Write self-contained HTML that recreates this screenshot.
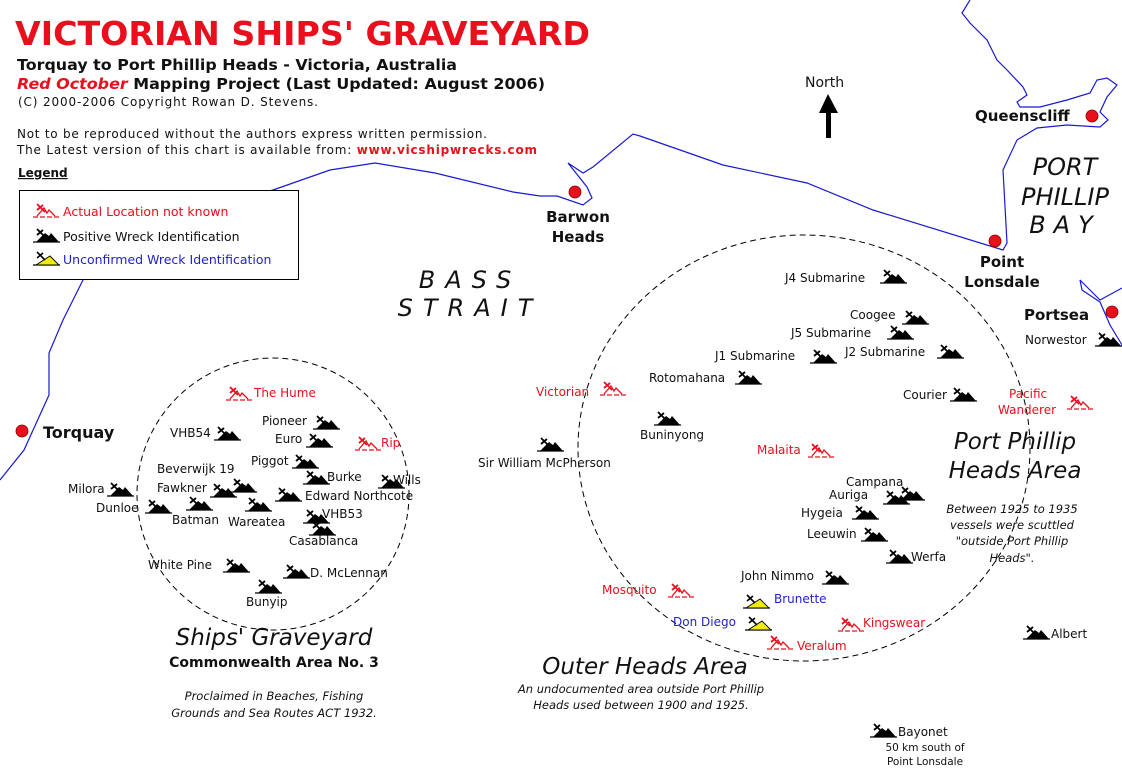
<!DOCTYPE html>
<html><head><meta charset="utf-8"><style>
html,body{margin:0;padding:0;background:#fff}
svg{display:block}
text{font-family:"DejaVu Sans","Liberation Sans",sans-serif;font-size:12px;fill:#111}
.r{fill:#e8101c}.b{fill:#2222cc}
.bd{font-weight:bold}
.it{font-style:italic}
</style></head><body>
<svg width="1122" height="768" viewBox="0 0 1122 768" xmlns="http://www.w3.org/2000/svg">
<defs>
<g id="w">
<line x1="0" y1="14" x2="27" y2="14" stroke="#000" stroke-width="1.3"/>
<polygon points="3,14 12,5 16,8 18,5 26,14" fill="#000"/>
<line x1="4" y1="1" x2="12" y2="9" stroke="#000" stroke-width="1.8"/>
<line x1="4" y1="7" x2="10" y2="2" stroke="#000" stroke-width="1.8"/>
</g>
<g id="y">
<line x1="0" y1="14" x2="27" y2="14" stroke="#000" stroke-width="1.3"/>
<polygon points="3,14 17,5 26,14" fill="#f0ea10" stroke="#000" stroke-width="0.9"/>
<line x1="4" y1="1" x2="12" y2="9" stroke="#000" stroke-width="1.6"/>
<line x1="4" y1="7" x2="10" y2="2" stroke="#000" stroke-width="1.6"/>
</g>
<g id="x">
<line x1="0" y1="14" x2="27" y2="14" stroke="#e8101c" stroke-width="1.3" stroke-dasharray="5,2"/>
<polyline points="4,13 11,5 14,10 16,7 22,13" fill="none" stroke="#e8101c" stroke-width="1.3"/>
<line x1="4" y1="1" x2="12" y2="9" stroke="#e8101c" stroke-width="1.8"/>
<line x1="4" y1="7" x2="10" y2="2" stroke="#e8101c" stroke-width="1.8"/>
</g>
</defs>

<path d="M0,480 L24,450 L49,395 L49,353 L63,320 L83,280 L120,240 L180,212 L273,190 L330,170 L375,163 L435,173 L513,192 L540,196 L557,196 L583,205 L592,198 L587,187 L568,163 L583,173 L593,167 L633,134 L640,136 L723,165 L807,183 L873,210 L1003,250 L1007,243 L1003,170 L1017,140 L1037,128 L1067,125 L1100,127 L1108,120 L1100,112 L1107,97 L1117,85 L1107,78 L1097,80 L1090,93 L1067,100 L1040,107 L1020,107 L1017,102 L1027,95 L1023,87 L1007,70 L997,60 L987,40 L970,23 L962,13 L970,0" fill="none" stroke="#1a1ad0" stroke-width="1.2"/>
<path d="M1080,280 L1082,290 L1100,302 L1110,325 L1122,345" fill="none" stroke="#1a1ad0" stroke-width="1.2"/>
<path d="M1080,280 L1090,290 L1100,300 L1122,288" fill="none" stroke="#1a1ad0" stroke-width="1.2"/>

<circle cx="273" cy="494" r="136" fill="none" stroke="#000" stroke-dasharray="6,4"/>
<ellipse cx="804" cy="448" rx="226" ry="213" fill="none" stroke="#000" stroke-dasharray="6,4"/>

<text x="15" y="45" class="bd r" style="font-size:33px" textLength="575" lengthAdjust="spacingAndGlyphs">VICTORIAN SHIPS' GRAVEYARD</text>
<text x="17" y="70" class="bd" style="font-size:15px" textLength="440" lengthAdjust="spacingAndGlyphs">Torquay to Port Phillip Heads - Victoria, Australia</text>
<text x="17" y="89" class="bd" style="font-size:15px" textLength="528" lengthAdjust="spacingAndGlyphs"><tspan class="r it">Red October</tspan> Mapping Project (Last Updated: August 2006)</text>
<text x="18" y="106" style="font-size:12px" textLength="300">(C) 2000-2006 Copyright Rowan D. Stevens.</text>
<text x="17" y="138" style="font-size:12px" textLength="470">Not to be reproduced without the authors express written permission.</text>
<text x="17" y="154" style="font-size:12px" textLength="520">The Latest version of this chart is available from: <tspan class="bd r">www.vicshipwrecks.com</tspan></text>
<text x="18" y="177" class="bd" style="font-size:12px;text-decoration:underline">Legend</text>

<rect x="19.5" y="190.5" width="279" height="89" fill="#fff" stroke="#000"/>
<use href="#x" x="33" y="203"/><text x="63" y="216" class="r" style="font-size:12.5px">Actual Location not known</text>
<use href="#w" x="33" y="228"/><text x="63" y="241" style="font-size:12.5px">Positive Wreck Identification</text>
<use href="#y" x="33" y="251"/><text x="63" y="264" class="b" style="font-size:12.5px">Unconfirmed Wreck Identification</text>

<text x="805" y="87" style="font-size:14px">North</text>
<polygon points="828,94 819,113 838,113" fill="#000"/>
<rect x="826" y="110" width="5" height="28" fill="#000"/>

<circle cx="22" cy="431" r="6" fill="#e8101c" stroke="#800" stroke-width="0.8"/>
<text x="43" y="438" class="bd" style="font-size:16px">Torquay</text>
<circle cx="575" cy="192" r="6" fill="#e8101c" stroke="#800" stroke-width="0.8"/>
<text x="578" y="222" class="bd" style="font-size:15px" text-anchor="middle">Barwon</text>
<text x="578" y="242" class="bd" style="font-size:15px" text-anchor="middle">Heads</text>
<circle cx="1092" cy="116" r="6" fill="#e8101c" stroke="#800" stroke-width="0.8"/>
<text x="975" y="121" class="bd" style="font-size:15px">Queenscliff</text>
<circle cx="995" cy="241" r="6" fill="#e8101c" stroke="#800" stroke-width="0.8"/>
<text x="1002" y="267" class="bd" style="font-size:15px" text-anchor="middle">Point</text>
<text x="1002" y="287" class="bd" style="font-size:15px" text-anchor="middle">Lonsdale</text>
<circle cx="1112" cy="312" r="6" fill="#e8101c" stroke="#800" stroke-width="0.8"/>
<text x="1024" y="320" class="bd" style="font-size:15px">Portsea</text>

<text x="1065" y="175" class="it" style="font-size:24px" text-anchor="middle">PORT</text>
<text x="1065" y="205" class="it" style="font-size:24px" text-anchor="middle">PHILLIP</text>
<text x="1065" y="233" class="it" style="font-size:24px;letter-spacing:8px" text-anchor="middle">BAY</text>
<text x="470" y="288" class="it" style="font-size:24px;letter-spacing:10px" text-anchor="middle">BASS</text>
<text x="470" y="316" class="it" style="font-size:24px;letter-spacing:10px" text-anchor="middle">STRAIT</text>

<use href="#x" x="226" y="386"/><text x="254" y="397" class="r">The Hume</text>
<text x="262" y="425">Pioneer</text><use href="#w" x="313" y="415"/>
<text x="275" y="443">Euro</text><use href="#w" x="306" y="433"/>
<use href="#x" x="355" y="436"/><text x="381" y="447" class="r">Rip</text>
<text x="170" y="437">VHB54</text><use href="#w" x="214" y="426"/>
<text x="251" y="465">Piggot</text><use href="#w" x="292" y="454"/>
<text x="157" y="473">Beverwijk 19</text>
<use href="#w" x="303" y="470"/><text x="327" y="481">Burke</text>
<use href="#w" x="378" y="474"/><text x="393" y="484">Wills</text>
<text x="157" y="492">Fawkner</text><use href="#w" x="210" y="483"/><use href="#w" x="230" y="478"/>
<use href="#w" x="275" y="487"/><text x="305" y="500">Edward Northcote</text>
<text x="68" y="493">Milora</text><use href="#w" x="107" y="482"/>
<text x="96" y="512">Dunloe</text><use href="#w" x="145" y="499"/>
<use href="#w" x="186" y="496"/><text x="172" y="524">Batman</text>
<use href="#w" x="245" y="497"/><text x="228" y="526">Wareatea</text>
<use href="#w" x="303" y="509"/><text x="322" y="518">VHB53</text>
<use href="#w" x="309" y="521"/><text x="289" y="545">Casablanca</text>
<text x="148" y="569">White Pine</text><use href="#w" x="223" y="558"/>
<use href="#w" x="283" y="564"/><text x="310" y="577">D. McLennan</text>
<use href="#w" x="255" y="579"/><text x="246" y="606">Bunyip</text>
<text x="274" y="645" class="it" style="font-size:23px" text-anchor="middle">Ships' Graveyard</text>
<text x="274" y="667" class="bd" style="font-size:14px" text-anchor="middle">Commonwealth Area No. 3</text>
<text x="274" y="700" class="it" style="font-size:11.5px" text-anchor="middle">Proclaimed in Beaches, Fishing</text>
<text x="274" y="717" class="it" style="font-size:11.5px" text-anchor="middle">Grounds and Sea Routes ACT 1932.</text>

<text x="785" y="282">J4 Submarine</text><use href="#w" x="880" y="269"/>
<text x="850" y="319">Coogee</text><use href="#w" x="902" y="310"/>
<text x="791" y="337">J5 Submarine</text><use href="#w" x="887" y="325"/>
<text x="845" y="356">J2 Submarine</text><use href="#w" x="937" y="344"/>
<text x="715" y="360">J1 Submarine</text><use href="#w" x="810" y="349"/>
<text x="649" y="382">Rotomahana</text><use href="#w" x="735" y="370"/>
<text x="536" y="396" class="r">Victorian</text><use href="#x" x="600" y="381"/>
<use href="#w" x="654" y="411"/><text x="640" y="439">Buninyong</text>
<use href="#w" x="537" y="437"/><text x="478" y="467">Sir William McPherson</text>
<text x="757" y="454" class="r">Malaita</text><use href="#x" x="808" y="443"/>
<text x="903" y="399">Courier</text><use href="#w" x="950" y="387"/>
<text x="1009" y="398" class="r">Pacific</text>
<text x="998" y="414" class="r">Wanderer</text><use href="#x" x="1067" y="395"/>
<text x="1025" y="344">Norwestor</text><use href="#w" x="1095" y="332"/>
<text x="1015" y="449" class="it" style="font-size:23px" text-anchor="middle">Port Phillip</text>
<text x="1015" y="478" class="it" style="font-size:23px" text-anchor="middle">Heads Area</text>
<text x="1012" y="513" class="it" style="font-size:11.5px" text-anchor="middle">Between 1925 to 1935</text>
<text x="1012" y="529" class="it" style="font-size:11.5px" text-anchor="middle">vessels were scuttled</text>
<text x="1012" y="545" class="it" style="font-size:11.5px" text-anchor="middle">"outside Port Phillip</text>
<text x="1012" y="562" class="it" style="font-size:11.5px" text-anchor="middle">Heads".</text>
<text x="846" y="486">Campana</text>
<text x="829" y="499">Auriga</text><use href="#w" x="883" y="490"/><use href="#w" x="898" y="486"/>
<text x="801" y="517">Hygeia</text><use href="#w" x="852" y="505"/>
<text x="807" y="538">Leeuwin</text><use href="#w" x="861" y="527"/>
<use href="#w" x="886" y="549"/><text x="911" y="561">Werfa</text>
<text x="741" y="580">John Nimmo</text><use href="#w" x="822" y="570"/>
<text x="602" y="594" class="r">Mosquito</text><use href="#x" x="668" y="583"/>
<use href="#y" x="743" y="594"/><text x="774" y="603" class="b">Brunette</text>
<text x="673" y="626" class="b">Don Diego</text><use href="#y" x="745" y="616"/>
<use href="#x" x="838" y="617"/><text x="863" y="627" class="r">Kingswear</text>
<use href="#x" x="767" y="635"/><text x="797" y="650" class="r">Veralum</text>
<use href="#w" x="1023" y="625"/><text x="1051" y="638">Albert</text>
<text x="645" y="674" class="it" style="font-size:23px" text-anchor="middle">Outer Heads Area</text>
<text x="641" y="693" class="it" style="font-size:11.5px" text-anchor="middle">An undocumented area outside Port Phillip</text>
<text x="641" y="709" class="it" style="font-size:11.5px" text-anchor="middle">Heads used between 1900 and 1925.</text>
<use href="#w" x="870" y="723"/><text x="898" y="736">Bayonet</text>
<text x="925" y="751" style="font-size:10.5px" text-anchor="middle">50 km south of</text>
<text x="925" y="765" style="font-size:10.5px" text-anchor="middle">Point Lonsdale</text>
</svg>
</body></html>
